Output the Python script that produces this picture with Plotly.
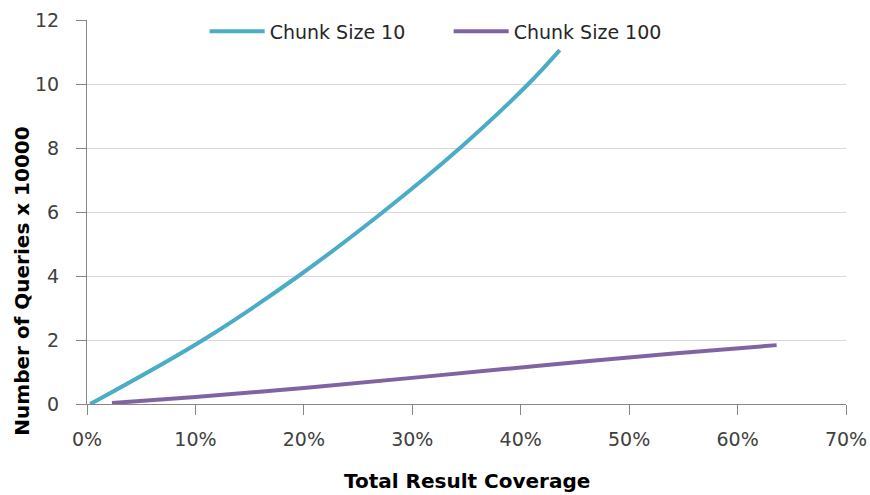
import plotly.graph_objects as go

# Coverage (%) vs. number of queries (x 10000)
coverage_chunk10 = [0.3, 10.7, 19.5, 27.3, 34.4, 40.7, 43.6]
queries_chunk10 = [0.0, 2.0, 4.0, 6.0, 8.0, 10.0, 11.06]

coverage_chunk100 = [2.3, 10.0, 20.0, 30.7, 42.4, 54.1, 63.6]
queries_chunk100 = [0.03, 0.22, 0.50, 0.84, 1.22, 1.58, 1.84]

x_ticks = [0, 10, 20, 30, 40, 50, 60, 70]
y_ticks = [0, 2, 4, 6, 8, 10, 12]

W, H = 870, 495
L, R, T, B = 87, 24, 18, 91
plot_w = W - L - R
plot_h = H - T - B

font_family = "DejaVu Sans"
tick_color = "#404040"

fig = go.Figure()
fig.add_trace(go.Scatter(
    x=coverage_chunk10, y=queries_chunk10, mode="lines", name="Chunk Size 10",
    line=dict(color="#4BACC6", width=4, shape="spline", smoothing=1.0),
))
fig.add_trace(go.Scatter(
    x=coverage_chunk100, y=queries_chunk100, mode="lines", name="Chunk Size 100",
    line=dict(color="#8064A2", width=4, shape="spline", smoothing=1.0),
))

axis_common = dict(
    showline=True, linecolor="#868686", linewidth=1, zeroline=False,
    ticks="outside", ticklen=10, tickcolor="#868686", tickwidth=1,
    tickfont=dict(size=19, color=tick_color), automargin=False,
)

fig.update_layout(
    width=W, height=H,
    margin=dict(l=L, r=R, t=T, b=B, pad=0),
    paper_bgcolor="white", plot_bgcolor="white",
    font=dict(family=font_family, size=19, color=tick_color),
    showlegend=True,
    legend=dict(
        orientation="h", x=0.155, y=1.02, xanchor="left", yanchor="top",
        bgcolor="rgba(255,255,255,0)", font=dict(size=19, color="#262626"),
        itemwidth=55, entrywidth=174, entrywidthmode="pixels",
    ),
    xaxis=dict(
        range=[0, 70], tickvals=x_ticks, ticktext=[f"{v}%" for v in x_ticks],
        showgrid=False, ticklabelstandoff=8, **axis_common,
    ),
    yaxis=dict(
        range=[0, 12], tickvals=y_ticks,
        showgrid=True, gridcolor="#D9D9D9", gridwidth=1,
        ticklabelstandoff=13, **axis_common,
    ),
)

fig.add_annotation(
    text="<b>Number of Queries x 10000</b>", textangle=-90,
    xref="paper", yref="paper", x=(22 - L) / plot_w, y=(T + plot_h - 281) / plot_h,
    xanchor="center", yanchor="middle", showarrow=False,
    font=dict(family=font_family, size=20, color="black"),
)
fig.add_annotation(
    text="<b>Total Result Coverage</b>",
    xref="paper", yref="paper", x=0.5, y=(T + plot_h - 481) / plot_h,
    xanchor="center", yanchor="middle", showarrow=False,
    font=dict(family=font_family, size=20, color="black"),
)

fig.write_html("out.html")
